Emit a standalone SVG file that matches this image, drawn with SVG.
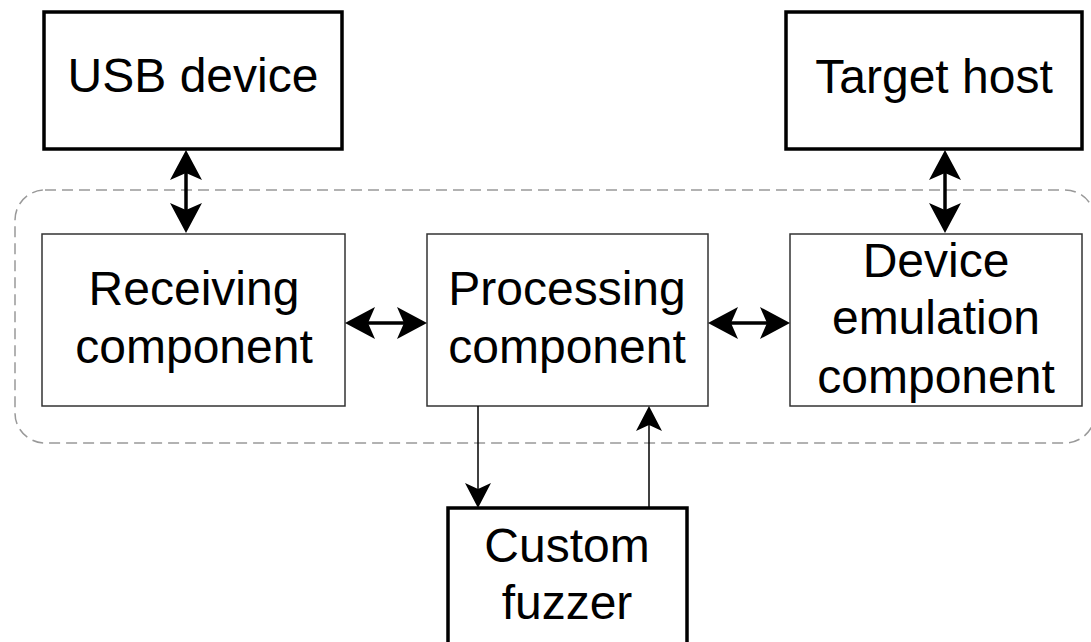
<svg xmlns="http://www.w3.org/2000/svg" width="1091" height="642" viewBox="0 0 1091 642">
  <style>
    .thick { fill: #fff; stroke: #000; stroke-width: 3.5; }
    .thin { fill: #fff; stroke: #333; stroke-width: 1.5; }
    .group { fill: none; stroke: #999; stroke-width: 1.5; stroke-dasharray: 11 6; }
    .label { font-family: "Liberation Sans", Arial, sans-serif; font-size: 48px; fill: #000; text-anchor: middle; }
    .bold-link { stroke: #000; stroke-width: 3.5; fill: none; }
    .light-link { stroke: #000; stroke-width: 1.5; fill: none; }
  </style>
  <defs>
    <marker id="bigHead" markerUnits="userSpaceOnUse" viewBox="0 0 30 32" refX="7" refY="16" markerWidth="30" markerHeight="32" orient="auto-start-reverse">
      <path d="M30,16 L0,0 L7,16 L0,32 Z" fill="#000"/>
    </marker>
    <marker id="smallHead" markerUnits="userSpaceOnUse" viewBox="0 0 25 26" refX="6" refY="13" markerWidth="25" markerHeight="26" orient="auto">
      <path d="M25,13 L0,0 L6,13 L0,26 Z" fill="#000"/>
    </marker>
  </defs>

  <rect width="1091" height="642" fill="#fff"/>

  <!-- dashed boundary around the three inner components -->
  <rect class="group" x="15" y="190" width="1080" height="253" rx="30" ry="30"/>

  <g id="usb-device">
    <rect class="thick" x="44" y="12" width="298" height="137"/>
    <text class="label" x="193" y="92">USB device</text>
  </g>

  <g id="target-host">
    <rect class="thick" x="786" y="12" width="296" height="137"/>
    <text class="label" x="934" y="93">Target host</text>
  </g>

  <g id="receiving">
    <rect class="thin" x="42" y="234" width="303" height="172"/>
    <text class="label" x="194" y="305">Receiving</text>
    <text class="label" x="194" y="363">component</text>
  </g>

  <g id="processing">
    <rect class="thin" x="427" y="234" width="281" height="172"/>
    <text class="label" x="567" y="305">Processing</text>
    <text class="label" x="567" y="363">component</text>
  </g>

  <g id="device-emulation">
    <rect class="thin" x="790" y="234" width="292" height="172"/>
    <text class="label" x="936" y="277">Device</text>
    <text class="label" x="936" y="334">emulation</text>
    <text class="label" x="936" y="393">component</text>
  </g>

  <g id="custom-fuzzer">
    <rect class="thick" x="448" y="508" width="239" height="150"/>
    <text class="label" x="567" y="562">Custom</text>
    <text class="label" x="567" y="619">fuzzer</text>
  </g>

  <g id="connectors">
    <line class="bold-link" x1="186" y1="173" x2="186" y2="210" marker-start="url(#bigHead)" marker-end="url(#bigHead)"/>
    <line class="bold-link" x1="945" y1="173" x2="945" y2="210" marker-start="url(#bigHead)" marker-end="url(#bigHead)"/>
    <line class="bold-link" x1="368" y1="323" x2="404" y2="323" marker-start="url(#bigHead)" marker-end="url(#bigHead)"/>
    <line class="bold-link" x1="731" y1="323" x2="767" y2="323" marker-start="url(#bigHead)" marker-end="url(#bigHead)"/>
    <line class="light-link" x1="478" y1="406" x2="478" y2="489" marker-end="url(#smallHead)"/>
    <line class="light-link" x1="649" y1="508" x2="649" y2="425" marker-end="url(#smallHead)"/>
  </g>
</svg>
